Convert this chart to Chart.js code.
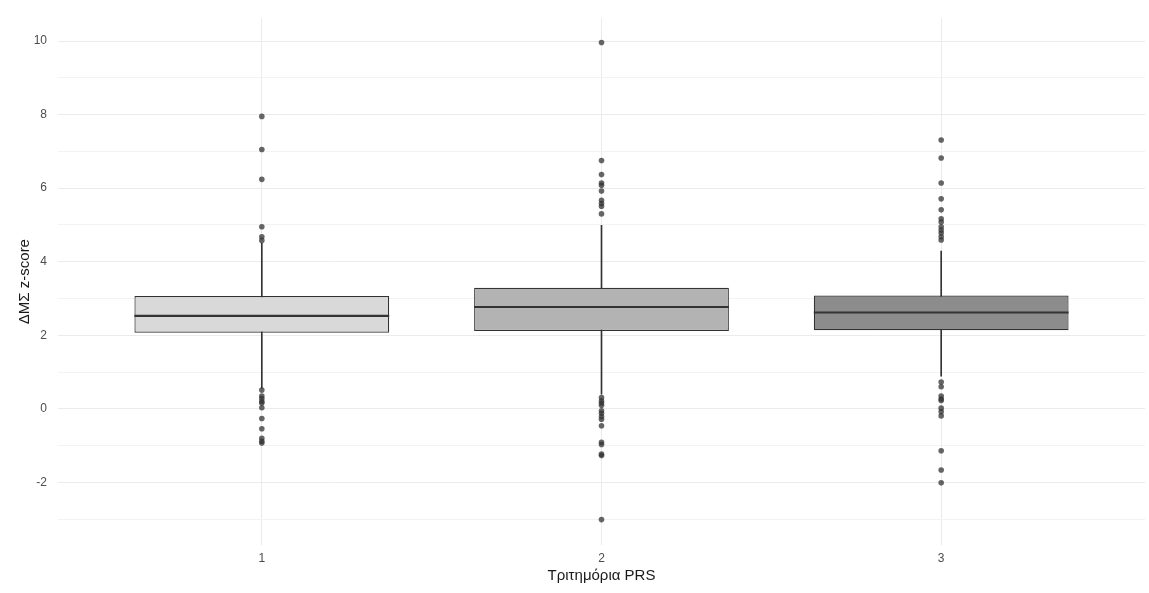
<!DOCTYPE html>
<html>
<head>
<meta charset="utf-8">
<title>ΔΜΣ z-score by PRS tertile</title>
<script src="https://cdn.jsdelivr.net/npm/chart.js@4/dist/chart.umd.min.js"></script>
<style>
  html, body { margin: 0; padding: 0; background: #ffffff; }
  #wrap { width: 1149px; height: 593px; position: relative; }
</style>
</head>
<body>
<div id="wrap"><canvas id="boxChart"></canvas></div>
<script>
// --- Data ---
const groups = [1, 2, 3];
const groupLabels = ['1', '2', '3'];

// box statistics per PRS tertile
const q1Values      = [2.07, 2.12, 2.14];
const medianValues  = [2.53, 2.77, 2.62];
const q3Values      = [3.07, 3.29, 3.08];
const whiskerLow    = [0.56, 0.40, 0.89];
const whiskerHigh   = [4.50, 4.99, 4.29];

// outliers per tertile
const outliers1 = [7.95, 7.05, 6.24, 4.95, 4.68, 4.58,
                   0.51, 0.35, 0.28, 0.20, 0.16, 0.03, -0.26, -0.54, -0.80, -0.88, -0.93];
const outliers2 = [9.96, 6.75, 6.37, 6.14, 6.08, 5.92, 5.67, 5.58, 5.51, 5.30,
                   0.31, 0.22, 0.16, 0.10, -0.05, -0.12, -0.21, -0.28, -0.46, -0.91, -0.97, -1.23, -1.27, -3.01];
const outliers3 = [7.31, 6.82, 6.14, 5.71, 5.41, 5.17, 5.08, 4.95, 4.86, 4.78, 4.68, 4.59,
                   0.73, 0.60, 0.35, 0.27, 0.23, 0.02, -0.08, -0.19, -1.14, -1.66, -2.01];
const outlierSets = [outliers1, outliers2, outliers3];

// axis ticks
const yTicks = [-3, -2, -1, 0, 1, 2, 3, 4, 5, 6, 7, 8, 9, 10];
const xTitle = 'Τριτημόρια PRS';
const yTitle = 'ΔΜΣ z-score';

// --- Styling ---
const boxFills = ['#D9D9D9', '#B3B3B3', '#8C8C8C'];
const boxWidth = 0.75;          // in category units, like ggplot default
const lineColour = '#333333';
const gridMajor = '#EBEBEB';
const gridMinor = '#F3F3F3';
const tickColour = '#4D4D4D';
const fontFamily = '"Liberation Sans", Arial, sans-serif';

// build datasets from the arrays above
const boxData = groups.map(function(g, i) {
    return { x: g, y: [q1Values[i], q3Values[i]] };
});

// whisker drawn as a thin floating bar from low to high, box covers the middle
const whiskerData = groups.map(function(g, i) {
    return { x: g, y: [whiskerLow[i], whiskerHigh[i]] };
});

const medianData = [];
groups.forEach(function(g, i) {
    medianData.push({ x: g - boxWidth / 2, y: medianValues[i] },
                    { x: g + boxWidth / 2, y: medianValues[i] },
                    { x: g, y: null });
});

const outlierData = [];
groups.forEach(function(g, i) {
    outlierSets[i].forEach(function(v) { outlierData.push({ x: g, y: v }); });
});

const ctx = document.getElementById('boxChart').getContext('2d');
new Chart(ctx, {
    type: 'bar',
    data: {
        datasets: [
            {
                type: 'scatter',
                label: 'outliers',
                data: outlierData,
                backgroundColor: 'rgba(51, 51, 51, 0.75)',
                borderWidth: 0,
                pointRadius: 2.8,
                order: 0
            },
            {
                type: 'line',
                label: 'median',
                data: medianData,
                borderColor: lineColour,
                borderWidth: 2.2,
                borderCapStyle: 'butt',
                pointRadius: 0,
                spanGaps: false,
                fill: false,
                order: 1
            },
            {
                type: 'bar',
                label: 'box',
                data: boxData,
                backgroundColor: boxFills,
                borderColor: lineColour,
                borderWidth: 1.2,
                borderSkipped: false,
                grouped: false,
                categoryPercentage: boxWidth,
                barPercentage: 1.0,
                order: 2
            },
            {
                type: 'bar',
                label: 'whiskers',
                data: whiskerData,
                backgroundColor: lineColour,
                borderWidth: 0,
                grouped: false,
                barThickness: 1,
                order: 3
            }
        ]
    },
    options: {
        responsive: true,
        maintainAspectRatio: false,
        animation: false,
        layout: { padding: { top: 15, right: 4, bottom: 0, left: 0 } },
        plugins: {
            legend: { display: false },
            tooltip: { enabled: false }
        },
        scales: {
            x: {
                type: 'linear',
                min: 0.4,
                max: 3.6,
                offset: false,
                afterBuildTicks: function(axis) {
                    axis.ticks = groups.map(function(g) { return { value: g }; });
                },
                afterFit: function(scale) { scale.height = 48; },
                ticks: {
                    color: tickColour,
                    font: { family: fontFamily, size: 12 },
                    padding: 6,
                    callback: function(v) {
                        const idx = groups.indexOf(v);
                        return idx >= 0 ? groupLabels[idx] : '';
                    }
                },
                grid: { color: gridMajor, lineWidth: 1, drawTicks: false, offset: false },
                border: { display: false },
                title: {
                    display: true,
                    text: xTitle,
                    color: '#1A1A1A',
                    font: { family: fontFamily, size: 15 },
                    padding: { top: 0, bottom: 8 }
                }
            },
            y: {
                type: 'linear',
                min: -3.7,
                max: 10.62,
                afterBuildTicks: function(axis) {
                    axis.ticks = yTicks.map(function(v) { return { value: v }; });
                },
                afterFit: function(scale) { scale.width = 58; },
                ticks: {
                    color: tickColour,
                    font: { family: fontFamily, size: 12 },
                    padding: 11,
                    callback: function(v) { return v % 2 === 0 ? String(v) : ''; }
                },
                grid: {
                    drawTicks: false,
                    lineWidth: 1,
                    color: function(c) {
                        return (c.tick && c.tick.value % 2 === 0) ? gridMajor : gridMinor;
                    }
                },
                border: { display: false },
                title: {
                    display: true,
                    text: yTitle,
                    color: '#1A1A1A',
                    font: { family: fontFamily, size: 15 },
                    padding: { top: 16, bottom: 0 }
                }
            }
        }
    }
});
</script>
</body>
</html>
